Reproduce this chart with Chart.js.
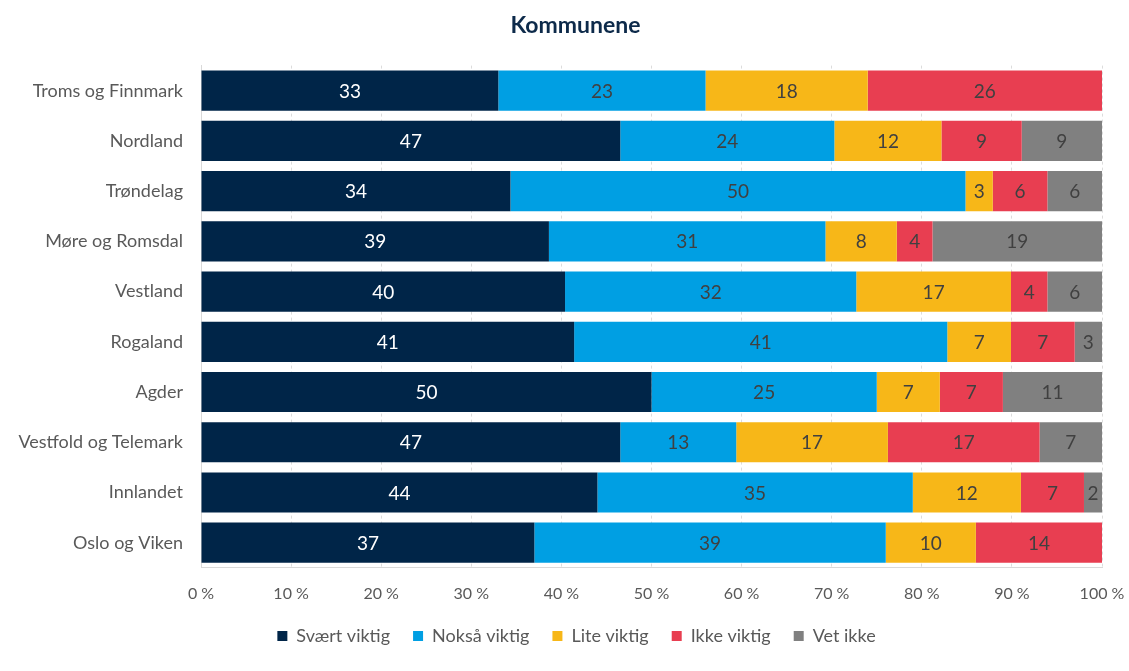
<!DOCTYPE html>
<html><head><meta charset="utf-8">
<script src="https://cdn.jsdelivr.net/npm/chart.js@4/dist/chart.umd.min.js"></script>
<style>html,body{margin:0;padding:0;background:#fff}canvas{display:block}</style>
</head><body>
<canvas id="c" width="1129" height="671"></canvas>
<script>
const categories = ["Troms og Finnmark","Nordland","Trøndelag","Møre og Romsdal","Vestland","Rogaland","Agder","Vestfold og Telemark","Innlandet","Oslo og Viken"];
const seriesNames = ["Svært viktig","Nokså viktig","Lite viktig","Ikke viktig","Vet ikke"];
const sveartViktig = [33,47,34,39,40,41,50,47,44,37];
const noksaViktig  = [23,24,50,31,32,41,25,13,35,39];
const liteViktig   = [18,12,3,8,17,7,7,17,12,10];
const ikkeViktig   = [26,9,6,4,4,7,7,17,7,14];
const vetIkke      = [0,9,6,19,6,3,11,7,2,0];
const xTicks = [0,10,20,30,40,50,60,70,80,90,100];
const colors = ["#002548","#009fe3","#f7b718","#e83e51","#808080"];
const labelColors = ["#ffffff","#404040","#404040","#404040","#404040"];

const raw = [sveartViktig, noksaViktig, liteViktig, ikkeViktig, vetIkke];
const totals = categories.map((_, i) => raw.reduce((s, a) => s + a[i], 0));
const datasets = raw.map((arr, k) => ({
  label: seriesNames[k],
  data: arr.map((v, i) => v / totals[i] * 100),
  rawData: arr,
  backgroundColor: colors[k],
  borderWidth: 0,
  barPercentage: 0.8,
  categoryPercentage: 1.0
}));

const FONT = "Lato, 'Noto Sans', sans-serif";

const labelPlugin = {
  id: 'barLabels',
  afterLayout(chart) {
    if (chart.titleBlock) chart.titleBlock.left += 12;
    if (chart.legend) chart.legend.left += 14;
  },
  afterDatasetsDraw(chart) {
    const ctx = chart.ctx;
    ctx.save();
    ctx.font = "19px " + FONT;
    ctx.textAlign = 'center';
    ctx.textBaseline = 'middle';
    chart.data.datasets.forEach((ds, k) => {
      const meta = chart.getDatasetMeta(k);
      meta.data.forEach((bar, i) => {
        const v = ds.rawData[i];
        if (!v) return;
        const cx = (bar.x + bar.base) / 2;
        ctx.fillStyle = labelColors[k];
        ctx.fillText(String(v), cx, bar.y + 1);
      });
    });
    ctx.restore();
  }
};

new Chart(document.getElementById('c'), {
  type: 'bar',
  data: { labels: categories, datasets },
  plugins: [labelPlugin],
  options: {
    indexAxis: 'y',
    responsive: false,
    animation: false,
    layout: { padding: { left: 10, right: 0, top: 10, bottom: 16 } },
    plugins: {
      title: {
        display: true, text: 'Kommunene', color: '#0d2a4a',
        font: { family: FONT, size: 23, weight: 'bold' },
        padding: { top: 2, bottom: 26 }
      },
      legend: {
        position: 'bottom',
        labels: {
          color: '#595959', font: { family: FONT, size: 18 },
          boxWidth: 10, boxHeight: 10, padding: 23
        }
      },
      tooltip: { enabled: false }
    },
    scales: {
      x: {
        stacked: true, min: 0, max: 100,
        afterBuildTicks(s) { s.ticks = xTicks.map(v => ({ value: v })); },
        afterFit(s) { s.height -= 15; s.paddingRight = 27; },
        ticks: { color: '#595959', font: { family: FONT, size: 16 }, callback: v => v + ' %', padding: 16 },
        grid: { color: '#dcdcdc', tickLength: 0, drawTicks: false },
        border: { display: true, color: '#d9d9d9', dash: [3, 3] }
      },
      y: {
        stacked: true,
        afterFit(s) { s.width = 191; },
        ticks: { color: '#595959', font: { family: FONT, size: 18 }, padding: 10 },
        grid: { display: false },
        border: { display: true, color: '#d9d9d9' }
      }
    }
  }
});
</script>
</body></html>
